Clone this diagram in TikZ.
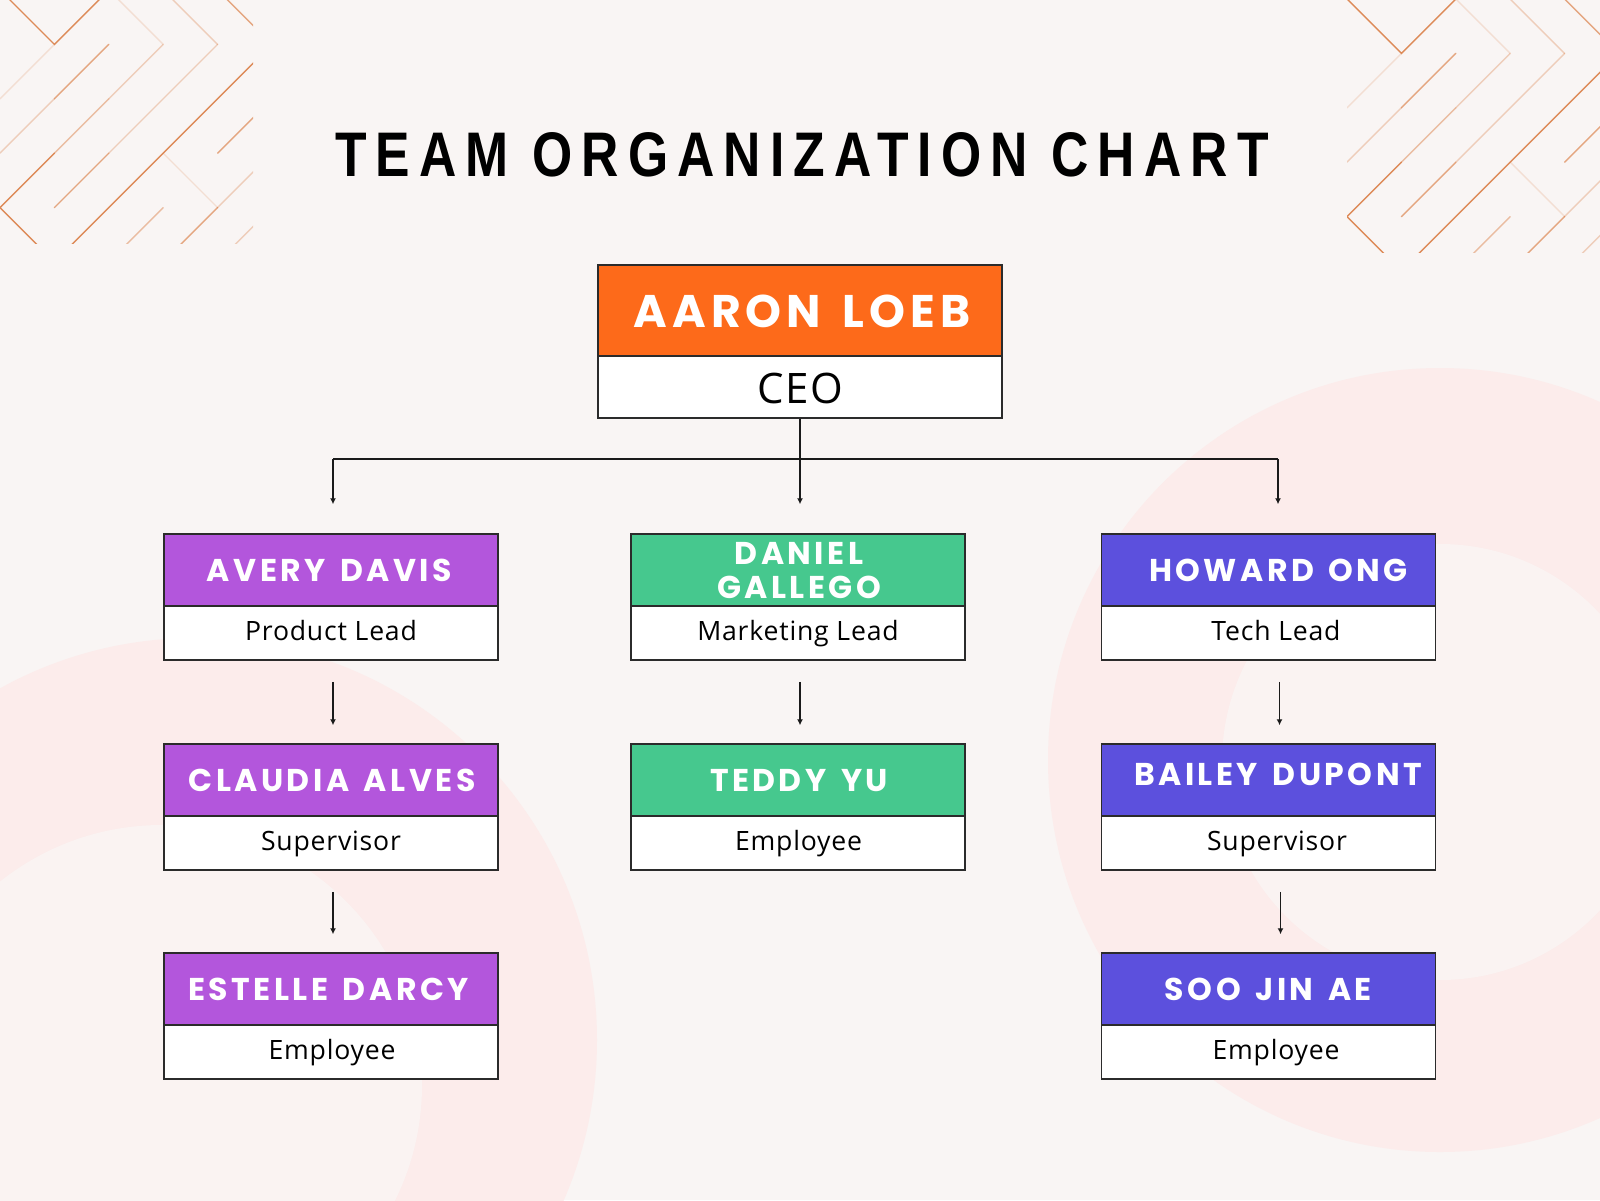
\documentclass[tikz,border=0pt]{standalone}
\usepackage{fontspec}
\usetikzlibrary{arrows.meta}
\setmainfont{Open Sans}
\newfontfamily\titlefont{Liberation Sans}[FakeStretch=0.82,LetterSpace=14.5]
\newfontfamily\namefont{Poppins}[LetterSpace=11,WordSpace=1.45]
\newfontfamily\rolefont{Open Sans}[LetterSpace=3]
\definecolor{bgc}{HTML}{F9F5F4}
\definecolor{ringc}{HTML}{FCECEB}
\definecolor{innerc}{HTML}{FAF3F2}
\definecolor{deco}{HTML}{DC8550}
\definecolor{orangeH}{HTML}{FD6A1A}
\definecolor{purpleH}{HTML}{B356DC}
\definecolor{greenH}{HTML}{46C88E}
\definecolor{blueH}{HTML}{5C50DD}
\definecolor{edge}{HTML}{2B2B2B}
\definecolor{linec}{HTML}{1A1A1A}
\newcommand\decolines{%
  \draw[dA] (0,-1)--(1,0)--(2,-1);
  \draw[dE] (1,0)--(0,1);
  \draw[dD] (0,2)--(1,1);
  \draw[dB] (1,1)--(2,0);
  \draw[dE] (2,-1)--(3,0);
  \draw[dD] (3,0)--(2,1);
  \draw[dC] (2,1)--(1,2);
  \draw[dA] (1,2)--(0,3)--(1,4);
  \draw[dB] (1,3)--(2,2);
  \draw[dD] (2,2)--(3,1)--(4,0);
  \draw[dD] (4,0)--(3,-1);
  \draw[dA] (1,4)--(5,0);
  \draw[dB] (4,-1)--(5,0);
  \draw[dB] (4,2)--(5,1);
  \draw[dE] (3,2)--(4,3);
  \draw[dD] (4,3)--(5,2);
  \draw[dB] (4,3)--(3,4);
  \draw[dC] (2,4)--(3,3);
  \draw[dD] (4,4)--(5,3);
}
\tikzset{
  dline/.style={draw=deco, line width=1.4pt, line cap=round},
  dA/.style={dline, draw opacity=0.95},
  dB/.style={dline, draw opacity=0.7},
  dC/.style={dline, draw opacity=0.5},
  dD/.style={dline, draw opacity=0.35},
  dE/.style={dline, draw opacity=0.2},
  hdr/.style={rectangle, draw=edge, line width=1.5pt, minimum width=334pt, minimum height=72pt, inner sep=0pt},
  bodybox/.style={rectangle, draw=edge, line width=1.5pt, fill=white, minimum width=334pt, minimum height=54pt, inner sep=0pt},
  nm/.style={anchor=base, text=white, inner sep=0pt, font=\namefont\bfseries\fontsize{31.5}{34}\selectfont},
  rl/.style={anchor=base, text=black, inner sep=0pt, font=\rolefont\fontsize{26.6}{30}\selectfont},
  conn/.style={draw=linec, line width=1.5pt},
  arr/.style={conn, -{Latex[length=6pt,width=6pt]}},
}
\begin{document}
\begin{tikzpicture}[x=1pt,y=-1pt]
\useasboundingbox (0,0) rectangle (1600,1200);
\fill[bgc] (0,0) rectangle (1600,1200);
\begin{scope}
  \clip (0,0) rectangle (1600,1200);
  \fill[ringc] (195,1040) circle[radius=402pt];
  \fill[innerc] (162,1085) circle[radius=260pt];
  \fill[ringc] (1440,760) circle[radius=392pt];
  \fill[innerc] (1440,762) circle[radius=218pt];
\end{scope}
% decorative patterns
\begin{scope}
  \clip (0,0) rectangle (253,243);
  \begin{scope}[shift={(0,44.4)}, x=54.4pt, y=-54.4pt]
    \decolines
  \end{scope}
\end{scope}
\begin{scope}
  \clip (1347,0) rectangle (1600,252);
  \begin{scope}[shift={(1347,53.4)}, x=54.4pt, y=-54.4pt]
    \decolines
  \end{scope}
\end{scope}
% title
\node[anchor=base, inner sep=0pt, font=\titlefont\bfseries\fontsize{63}{70}\selectfont] (title) at (802,176) {TEAM ORGANIZATION CHART};
% CEO
\node[bodybox, minimum width=404pt, minimum height=62pt] (ceoB) at (800,387) {};
\node[hdr, fill=orangeH, minimum width=404pt, minimum height=91pt] (ceoH) at (800,310.5) {};
\node[nm, font=\namefont\bfseries\fontsize{45.7}{50}\selectfont] (ceoN) at (802,327) {AARON LOEB};
\node[rl, font=\rolefont\fontsize{42}{46}\selectfont] (ceoR) at (800.5,403) {CEO};
% left column
\node[bodybox] (avB) at (331,633) {};
\node[hdr, fill=purpleH] (avH) at (331,570) {};
\node[nm] (avN) at (329.5,581) {AVERY DAVIS};
\node[rl] (avR) at (331,640) {Product Lead};
\node[bodybox] (clB) at (331,843) {};
\node[hdr, fill=purpleH] (clH) at (331,780) {};
\node[nm] (clN) at (332,791) {CLAUDIA ALVES};
\node[rl] (clR) at (331,850) {Supervisor};
\node[bodybox] (esB) at (331,1052) {};
\node[hdr, fill=purpleH] (esH) at (331,989) {};
\node[nm] (esN) at (328.5,1000) {ESTELLE DARCY};
\node[rl] (esR) at (332,1059) {Employee};
% middle column
\node[bodybox] (dgB) at (798,633) {};
\node[hdr, fill=greenH] (dgH) at (798,570) {};
\node[nm, anchor=center, align=center] (dgN) at (799,570.5) {DANIEL\\GALLEGO};
\node[rl] (dgR) at (798,640) {Marketing Lead};
\node[bodybox] (tyB) at (798,843) {};
\node[hdr, fill=greenH] (tyH) at (798,780) {};
\node[nm] (tyN) at (799,791) {TEDDY YU};
\node[rl] (tyR) at (798.5,850) {Employee};
% right column
\node[bodybox] (hoB) at (1268.5,633) {};
\node[hdr, fill=blueH] (hoH) at (1268.5,570) {};
\node[nm] (hoN) at (1278.5,581) {HOWARD ONG};
\node[rl] (hoR) at (1276,640) {Tech Lead};
\node[bodybox] (bdB) at (1268.5,843) {};
\node[hdr, fill=blueH] (bdH) at (1268.5,780) {};
\node[nm] (bdN) at (1278,785) {BAILEY DUPONT};
\node[rl] (bdR) at (1277,850) {Supervisor};
\node[bodybox] (sjB) at (1268.5,1052) {};
\node[hdr, fill=blueH] (sjH) at (1268.5,989) {};
\node[nm] (sjN) at (1268.5,1000) {SOO JIN AE};
\node[rl] (sjR) at (1276,1059) {Employee};
% connectors
\coordinate (busL) at (333,459);
\coordinate (busR) at (1278,459);
\draw[conn] (busL) -- (busR);
\draw[arr, shorten >=29pt] (ceoB.south) -- (ceoB.south |- dgH.north);
\draw[arr, shorten >=29pt] (busL) -- (busL |- avH.north);
\draw[arr, shorten >=29pt] (busR) -- (busR |- hoH.north);
\draw[arr, shorten <=21pt, shorten >=18pt] ([xshift=2pt]avB.south) -- ([xshift=2pt]clH.north);
\draw[arr, shorten <=21pt, shorten >=18pt] ([xshift=2pt]clB.south) -- ([xshift=2pt]esH.north);
\draw[arr, shorten <=21pt, shorten >=18pt] ([xshift=2pt]dgB.south) -- ([xshift=2pt]tyH.north);
\draw[arr, shorten <=21pt, shorten >=18pt] ([xshift=11pt]hoB.south) -- ([xshift=11pt]bdH.north);
\draw[arr, shorten <=21pt, shorten >=18pt] ([xshift=12pt]bdB.south) -- ([xshift=12pt]sjH.north);
\end{tikzpicture}
\end{document}
